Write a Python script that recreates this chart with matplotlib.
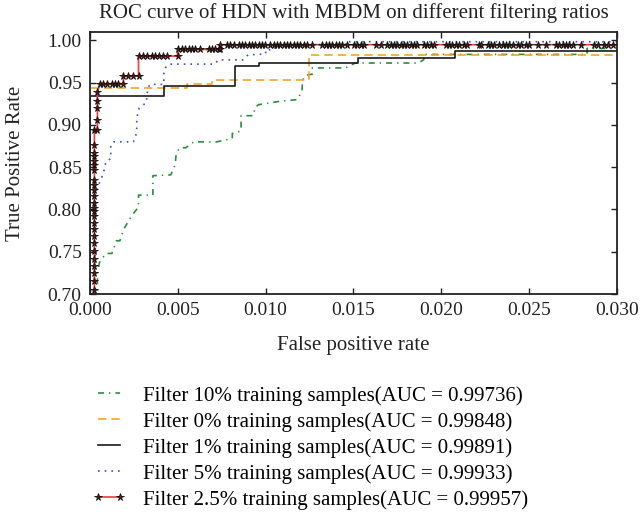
import matplotlib
matplotlib.use("Agg")
import matplotlib.pyplot as plt
import numpy as np

plt.rcParams['font.family'] = ['Liberation Serif', 'DejaVu Serif']

# ROC curves (zoomed region of the plot)
# Filter 10%
fpr_10 = [0.00042, 0.00042, 0.00053, 0.00090, 0.00125, 0.00150, 0.00170, 0.00190, 0.00235,
          0.00276, 0.00276, 0.00358, 0.00358, 0.00460, 0.00485, 0.00490, 0.00510, 0.00545,
          0.00590, 0.00720, 0.00810, 0.00810, 0.00860, 0.00860, 0.00930, 0.00940, 0.00960,
          0.01080, 0.01180, 0.01207, 0.01210, 0.01230, 0.01265, 0.01265, 0.01455, 0.01510,
          0.01870, 0.01900, 0.01900, 0.02830, 0.02830, 0.03000]
tpr_10 = [0.650, 0.723, 0.737, 0.748, 0.748, 0.763, 0.763, 0.776, 0.792,
          0.803, 0.817, 0.817, 0.840, 0.841, 0.853, 0.865, 0.873, 0.873,
          0.880, 0.880, 0.884, 0.890, 0.893, 0.911, 0.911, 0.921, 0.924,
          0.928, 0.930, 0.940, 0.953, 0.959, 0.960, 0.9675, 0.9675, 0.9733,
          0.9733, 0.9773, 0.9835, 0.9835, 0.9905, 0.9905]

# Filter 0%
fpr_0 = [0.0, 0.0, 0.0055, 0.0055, 0.00694, 0.00694, 0.01245, 0.01245, 0.030]
tpr_0 = [0.0, 0.944, 0.944, 0.948, 0.948, 0.953, 0.953, 0.9824, 0.9824]

# Filter 1%
fpr_1 = [0.0, 0.0, 0.0042, 0.0042, 0.00827, 0.00827, 0.00964, 0.00964, 0.01525, 0.01525,
         0.02076, 0.02076, 0.030]
tpr_1 = [0.0, 0.934, 0.934, 0.946, 0.946, 0.9694, 0.9694, 0.9737, 0.9737, 0.9796,
         0.9796, 0.988, 0.988]

# Filter 5%
fpr_5 = [0.0003, 0.0003, 0.00057, 0.00076, 0.00091, 0.00118, 0.00118, 0.00133, 0.00247,
         0.00266, 0.00266, 0.00280, 0.00323, 0.00323, 0.00330, 0.00340, 0.0042, 0.0042,
         0.0043, 0.0045, 0.0071, 0.0073, 0.0087, 0.0090, 0.0100, 0.0100, 0.0105, 0.0106,
         0.01455, 0.01455, 0.030]
tpr_5 = [0.650, 0.820, 0.833, 0.843, 0.857, 0.860, 0.876, 0.880, 0.880,
         0.891, 0.908, 0.920, 0.927, 0.935, 0.943, 0.948, 0.948, 0.962,
         0.968, 0.972, 0.972, 0.977, 0.977, 0.983, 0.984, 0.989, 0.989, 0.995,
         0.995, 0.9985, 0.9985]

# Filter 2.5%: ROC points (each one gets a star), grouped by step of the staircase
# vertical runs: (fpr, [tpr...])
red_vertical = [
    (0.00025, [0.690, 0.705, 0.715, 0.725, 0.7333, 0.7412, 0.7509, 0.7608, 0.7686, 0.7765,
               0.7844, 0.7921, 0.7980, 0.8020, 0.8078, 0.8156, 0.8235, 0.8294, 0.8353,
               0.8471, 0.8529, 0.8568, 0.8627, 0.8667, 0.8765, 0.894]),
    (0.00042, [0.894, 0.906, 0.920, 0.928, 0.939]),
]
# horizontal runs: (tpr, [fpr...])
red_horizontal = [
    (0.949, [0.00057, 0.00076, 0.00095, 0.00124, 0.00143, 0.00161, 0.0019]),
    (0.958, [0.0019, 0.00219, 0.00247, 0.00276]),
    (0.9815, [0.00276, 0.00304, 0.00323, 0.00352, 0.00371, 0.0039, 0.00418, 0.00437, 0.00498]),
    (0.9894, [0.00498, 0.00523, 0.00542, 0.00561, 0.00580, 0.00599, 0.00628, 0.00675,
              0.00694, 0.00713, 0.00732, 0.00742]),
    (0.995, [0.00742, 0.00780, 0.00799, 0.00817, 0.00846, 0.00865, 0.00884, 0.00903,
             0.00922, 0.00941, 0.00960, 0.00979, 0.00998,
             0.01027, 0.01046, 0.01065, 0.01084, 0.01103, 0.01122, 0.01141, 0.01160,
             0.01179, 0.01198, 0.01217, 0.01236, 0.01265, 0.01322, 0.01341, 0.01359,
             0.01379, 0.01398, 0.01416, 0.01436, 0.01464, 0.01502, 0.01521, 0.01540,
             0.01559, 0.01626, 0.01655, 0.01693, 0.01711, 0.01730, 0.01750, 0.01768,
             0.01787, 0.01807, 0.01825, 0.01844, 0.01864, 0.01901, 0.01920, 0.01940,
             0.01959, 0.02025, 0.02044, 0.02063, 0.02082, 0.02101, 0.02130, 0.02149,
             0.02215, 0.02225, 0.02263, 0.02282, 0.02301, 0.02329, 0.02349, 0.02368,
             0.02386, 0.02406, 0.02434, 0.02453, 0.02481, 0.02500, 0.02548, 0.02595,
             0.02653, 0.02671, 0.02691, 0.02710, 0.02729, 0.02748, 0.02795, 0.02871,
             0.02890, 0.02928, 0.02948, 0.02976, 0.03050]),
]
fpr_25, tpr_25 = [], []
for xv, ys in red_vertical:
    fpr_25 += [xv] * len(ys)
    tpr_25 += ys
for yv, xs in red_horizontal:
    fpr_25 += xs
    tpr_25 += [yv] * len(xs)

fig = plt.figure(figsize=(6.44, 5.13), dpi=100)
ax = fig.add_axes([0.1398, 0.4269, 0.8182, 0.5107])

ax.plot(fpr_10, tpr_10, color='#2e8b3f', lw=1.2, linestyle=(0, (3.6, 3.0, 0.8, 3.0)),
        label='Filter 10% training samples(AUC = 0.99736)')
ax.plot(fpr_0, tpr_0, color='#f4a32a', lw=1.2, linestyle=(0, (5, 3)),
        label='Filter 0% training samples(AUC = 0.99848)')
ax.plot(fpr_1, tpr_1, color='#1a1a1a', lw=1.2,
        label='Filter 1% training samples(AUC = 0.99891)')
ax.plot(fpr_5, tpr_5, color='#3a4fc8', lw=1.2, linestyle=(0, (1, 3)),
        label='Filter 5% training samples(AUC = 0.99933)')
ax.plot(fpr_25, tpr_25, color='#f03c3c', lw=1.2, marker='*', ms=5.5,
        mfc='#7a1010', mec='#111111', mew=0.6,
        label='Filter 2.5% training samples(AUC = 0.99957)')

ax.set_xlim(0, 0.030)
ax.set_ylim(0.70, 1.01)
ax.set_xticks(np.arange(0, 0.0301, 0.005))
ax.set_yticks(np.arange(0.70, 1.001, 0.05))
ax.xaxis.set_major_formatter(matplotlib.ticker.FormatStrFormatter('%.3f'))
ax.yaxis.set_major_formatter(matplotlib.ticker.FormatStrFormatter('%.2f'))
ax.tick_params(direction='in', top=True, right=True, length=4, width=1,
               labelsize=14, pad=6, colors='#222222', labelcolor='#222222')
for s in ax.spines.values():
    s.set_color('#222222')
    s.set_linewidth(1.3)

ax.set_title('ROC curve of HDN with MBDM on different filtering ratios',
             fontsize=15, pad=10, color='#222222')
ax.set_xlabel('False positive rate', fontsize=15, labelpad=12, color='#222222')
ax.set_ylabel('True Positive Rate', fontsize=15, color='#222222')
ax.yaxis.set_label_coords(-0.124, 0.5)

ax.legend(loc='upper left', bbox_to_anchor=(0.1424, 0.2476), bbox_transform=fig.transFigure,
          frameon=False, fontsize=15, borderpad=0, borderaxespad=0,
          handlelength=1.68, handletextpad=0.8, labelspacing=0.3, numpoints=2)

fig.savefig('out.png', dpi=100)
